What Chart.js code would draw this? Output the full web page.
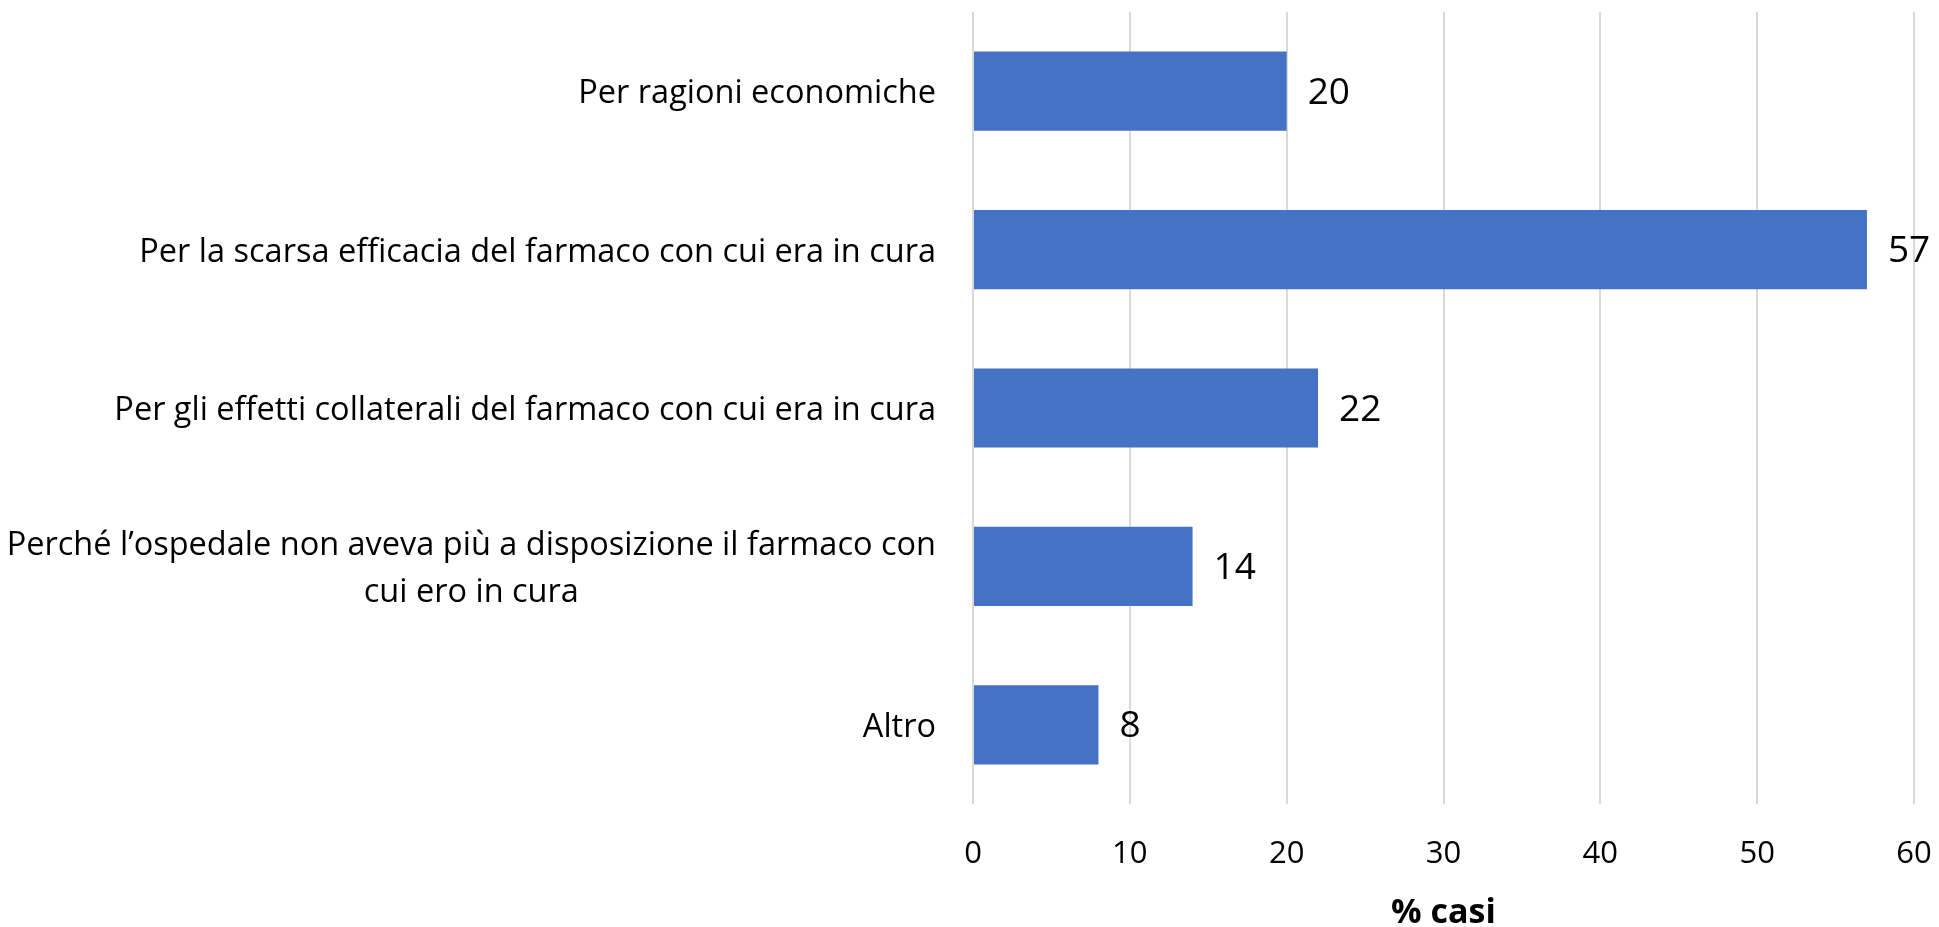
<!DOCTYPE html>
<html>
<head>
<meta charset="utf-8">
<script src="https://cdn.jsdelivr.net/npm/chart.js@4"></script>
<style>
    html, body { margin: 0; padding: 0; background: #fff; }
    #wrap { width: 1939px; height: 927px; }
</style>
</head>
<body>
<div id="wrap"><canvas id="chart"></canvas></div>
<script>
// Chart data
const categories = [
    ['Per ragioni economiche'],
    ['Per la scarsa efficacia del farmaco con cui era in cura'],
    ['Per gli effetti collaterali del farmaco con cui era in cura'],
    ['Perché l\u2019ospedale non aveva più a disposizione il farmaco con', 'cui ero in cura'],
    ['Altro']
];
const values = [20, 57, 22, 14, 8];
const xTicks = [0, 10, 20, 30, 40, 50, 60];
const xTitle = '% casi';

const FONT = "'Open Sans', 'Noto Sans', sans-serif";

// Category labels: single lines right aligned, multi-line blocks centred
const categoryLabels = {
    id: 'categoryLabels',
    afterDraw(chart) {
        const ctx = chart.ctx;
        const y = chart.scales.y;
        ctx.save();
        ctx.font = '32.5px ' + FONT;
        ctx.fillStyle = '#000';
        ctx.textBaseline = 'middle';
        ctx.textAlign = 'center';
        const right = y.right - 37;
        const lineH = 47;
        categories.forEach((lines, i) => {
            const cy = y.getPixelForValue(i) + 3;
            const widest = Math.max(...lines.map(l => ctx.measureText(l).width));
            const cx = right - widest / 2;
            const top = cy - (lines.length - 1) * lineH / 2;
            lines.forEach((l, j) => ctx.fillText(l, cx, top + j * lineH));
        });
        ctx.restore();
    }
};

// Value labels at the end of each bar
const valueLabels = {
    id: 'valueLabels',
    afterDatasetsDraw(chart) {
        const ctx = chart.ctx;
        const meta = chart.getDatasetMeta(0);
        ctx.save();
        ctx.font = '37px ' + FONT;
        ctx.fillStyle = '#000';
        ctx.textBaseline = 'middle';
        ctx.textAlign = 'left';
        meta.data.forEach((bar, i) => {
            ctx.fillText(String(values[i]), bar.x + 21, bar.y + 2);
        });
        ctx.restore();
    }
};

const ctx = document.getElementById('chart').getContext('2d');
new Chart(ctx, {
    type: 'bar',
    data: {
        labels: categories.map(c => c.join(' ')),
        datasets: [{
            data: values,
            backgroundColor: '#4472C4',
            borderWidth: 0,
            categoryPercentage: 1,
            barPercentage: 0.5
        }]
    },
    options: {
        indexAxis: 'y',
        responsive: true,
        maintainAspectRatio: false,
        animation: false,
        layout: { padding: { top: 12, right: 0, left: 0, bottom: 0 } },
        plugins: {
            legend: { display: false },
            tooltip: { enabled: false }
        },
        scales: {
            x: {
                min: 0,
                max: 60,
                afterBuildTicks: scale => { scale.ticks = xTicks.map(v => ({ value: v })); },
                afterFit: scale => {
                    scale.height = 123;
                    scale.paddingLeft = 0;
                    scale.paddingRight = 25;
                },
                grid: { color: '#d9d9d9', lineWidth: 2, drawTicks: false },
                border: { display: false },
                ticks: {
                    padding: 32,
                    color: '#000',
                    font: { family: FONT, size: 31 }
                },
                title: {
                    display: true,
                    text: xTitle,
                    color: '#000',
                    padding: { top: 0, bottom: 0 },
                    font: { family: FONT, size: 34, weight: 'bold', lineHeight: 0.8 }
                }
            },
            y: {
                afterFit: scale => { scale.width = 973; },
                grid: { display: false },
                border: { display: false },
                ticks: { display: false }
            }
        }
    },
    plugins: [categoryLabels, valueLabels]
});
</script>
</body>
</html>
